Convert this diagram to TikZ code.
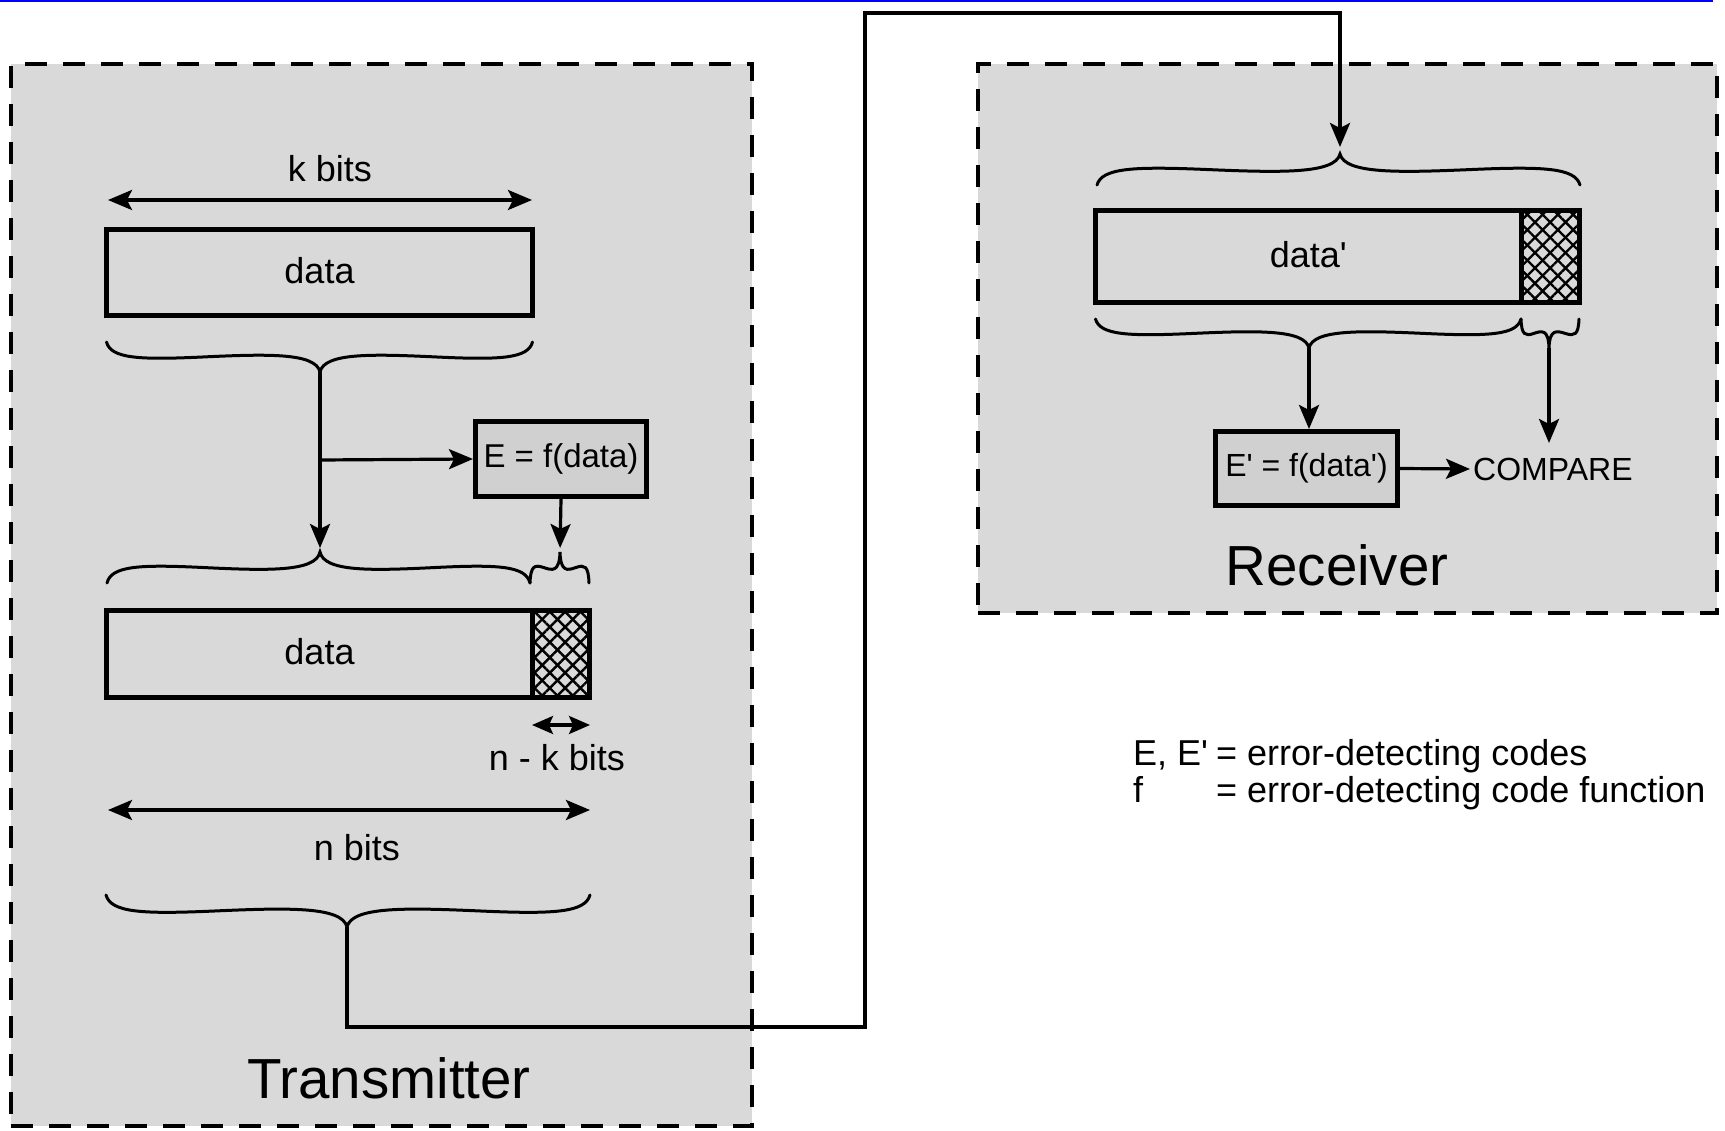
\documentclass[tikz,border=0pt]{standalone}
\usepackage{fontspec}
\setmainfont{Liberation Sans}
\newfontfamily\lsans{Liberation Sans}
\usetikzlibrary{arrows.meta,patterns.meta,calc}
\definecolor{bg}{HTML}{D9D9D9}
\definecolor{eboxfill}{HTML}{D0D0D0}
\newcommand{\hbrace}[5]{%
  \draw[bracestyle] (#1,#4)
    .. controls ({#1+0.02*(#3-#1)},{#4+0.55*(#5-#4)}) and ({#1+0.15*(#3-#1)},{#4+0.6*(#5-#4)}) .. ({#1+0.45*(#3-#1)},{#4+0.5*(#5-#4)})
    .. controls ({#1+0.75*(#3-#1)},{#4+0.4*(#5-#4)}) and ({#3-0.02*(#3-#1)},{#4+0.35*(#5-#4)}) .. (#3,#5)
    .. controls ({#3+0.02*(#2-#3)},{#4+0.35*(#5-#4)}) and ({#3+0.25*(#2-#3)},{#4+0.4*(#5-#4)}) .. ({#3+0.55*(#2-#3)},{#4+0.5*(#5-#4)})
    .. controls ({#2-0.15*(#2-#3)},{#4+0.6*(#5-#4)}) and ({#2-0.02*(#2-#3)},{#4+0.55*(#5-#4)}) .. (#2,#4);
}
\tikzset{
  container/.style={draw, fill=bg, line width=3.5pt, dash pattern=on 22pt off 16pt, inner sep=0pt},
  databox/.style={draw, fill=bg, line width=5pt, inner sep=0pt, text depth=5pt, font=\lsans\fontsize{36}{40}\selectfont},
  hatchbox/.style={draw, fill=bg, line width=5pt, inner sep=0pt,
    postaction={pattern={Lines[angle=45,distance=10.8pt,line width=2.4pt]}},
    postaction={pattern={Lines[angle=-45,distance=10.8pt,line width=2.4pt]}}},
  fbox/.style={draw, fill=eboxfill, line width=5pt, inner sep=0pt},
  bracestyle/.style={line width=3pt, line cap=round},
  tip/.tip={Stealth[length=24pt,width=20pt,inset=5pt]},
  arr/.style={line width=3.2pt, -tip},
  dblarr/.style={line width=3.2pt, tip-tip},
  smallarr/.style={line width=3.2pt, {Stealth[length=21pt,width=18pt,inset=4pt]}-{Stealth[length=21pt,width=18pt,inset=4pt]}},
  lbl/.style={font=\lsans\fontsize{36}{40}\selectfont, inner sep=0pt},
  title/.style={font=\lsans\fontsize{56.5}{60}\selectfont, inner sep=0pt},
  leg/.style={font=\lsans\fontsize{36}{40}\selectfont, inner sep=0pt, anchor=base west},
}
\begin{document}
\begin{tikzpicture}[x=1pt,y=-1pt]
\useasboundingbox (0,0) rectangle (1725,1131);
\fill[white] (0,0) rectangle (1725,1131);
% containers
\node[container, minimum width=741pt, minimum height=1062pt] (tx) at (381.5,595) {};
\node[container, minimum width=739pt, minimum height=549pt] (rx) at (1347.5,338.5) {};
% blue top line
\draw[blue, line width=2.5pt] (0,1) coordinate (bl) -- (1713,1) coordinate (br2);

% ---------- Transmitter ----------
\draw[dblarr] (108,200) coordinate (ka) -- (532,200) coordinate (kb);
\node[lbl, anchor=base] (kbits) at (330,182) {k bits};
\node[databox, minimum width=426pt, minimum height=86pt] (data1) at (319.5,272.5) {data};

\hbrace{106.5}{532.5}{320}{342}{372}
\coordinate (b1) at (320,372);

\node[fbox, minimum width=171pt, minimum height=75pt, font=\lsans\fontsize{33}{36}\selectfont] (ebox) at (561,459) {E = f(data)};

\hbrace{107}{530}{320}{583}{552}
\coordinate (b2) at (320,552);
\hbrace{530}{589}{560}{583}{552}
\coordinate (b2s) at (560,552);

\coordinate (brn) at (320,460);
\draw[arr, shorten >=4pt] (b1) -- (b2);
\draw[arr] (brn) -- (ebox.west);
\draw[arr, shorten >=4pt] (ebox.south) -- (b2s);

\node[databox, minimum width=426pt, minimum height=87pt] (data2) at (319.5,654) {data};
\node[hatchbox, minimum width=57pt, minimum height=87pt] (hatch2) at (561,654) {};

\draw[smallarr] (532,725) coordinate (nka) -- (590,725) coordinate (nkb);
\node[lbl, anchor=base] (nk) at (557,770) {n - k bits};
\draw[dblarr] (108,810) coordinate (na) -- (590,810) coordinate (nb);
\node[lbl, anchor=base] (nbits) at (357,860) {n bits};

\hbrace{106}{590}{347}{895}{927}
\coordinate (b3) at (347,927);

\node[title, anchor=base] (txlabel) at (389,1098) {Transmitter};

% ---------- wire ----------
\coordinate (w1) at (865,1027);
\coordinate (w2) at (865,13);
\coordinate (rtop) at (1340,147);
\draw[arr] (b3) |- (w1) -- (w2) -| (rtop);

% ---------- Receiver ----------
\hbrace{1097}{1580}{1340}{185}{154}
\node[databox, minimum width=425.5pt, minimum height=92pt] (dataR) at (1308.25,256.5) {data'};
\node[hatchbox, minimum width=58.5pt, minimum height=92pt] (hatchR) at (1550.25,256.5) {};

\hbrace{1095.5}{1521}{1309}{319}{348}
\coordinate (bR2) at (1309,348);
\hbrace{1521}{1579}{1549}{319}{348}
\coordinate (bR2s) at (1549,348);

\node[fbox, minimum width=182pt, minimum height=74pt, font=\lsans\fontsize{32}{35}\selectfont] (epbox) at (1306.5,468.5) {E' = f(data')};
\node[lbl, font=\lsans\fontsize{32}{35}\selectfont, anchor=west, inner sep=3pt] (cmp) at (1470,469) {COMPARE};
\coordinate (cmptop) at (1549,443);

\draw[arr] (bR2) -- (bR2 |- epbox.north);
\draw[arr] (epbox.east) -- (cmp.west);
\draw[arr] (bR2s) -- (cmptop);

\node[title, anchor=base] (rxlabel) at (1337,585) {Receiver};

% ---------- legend ----------
\node[leg] (l1a) at (1133,765) {E, E'};
\node[leg] (l1b) at (1216,765) {= error-detecting codes};
\node[leg] (l2a) at (1133,802) {f};
\node[leg] (l2b) at (1216,802) {= error-detecting code function};
\end{tikzpicture}
\end{document}
